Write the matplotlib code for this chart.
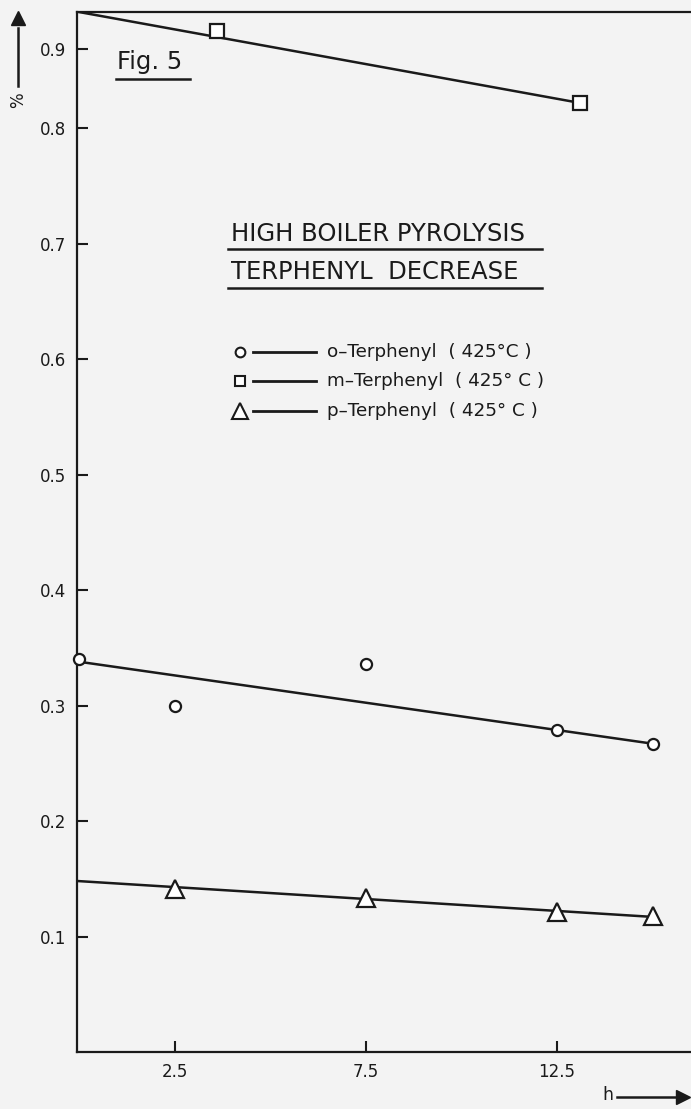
import numpy as np
import matplotlib
matplotlib.use("Agg")
import matplotlib.pyplot as plt
from matplotlib.lines import Line2D

# ---- data ----
o_x = [0, 2.5, 7.5, 12.5, 15]
o_y = [0.340, 0.300, 0.336, 0.279, 0.267]
o_fit_x = [0, 15]
o_fit_y = [0.338, 0.267]

m_x = [3.6, 13.1]
m_y = [0.923, 0.832]
m_fit_x = [0, 13.1]
m_fit_y = [0.947, 0.832]

p_x = [2.5, 7.5, 12.5, 15]
p_y = [0.141, 0.133, 0.121, 0.118]
p_fit_x = [0, 15]
p_fit_y = [0.148, 0.117]

x_ticks = [2.5, 7.5, 12.5]
x_ticklabels = ["2.5", "7.5", "12.5"]
y_ticks = [0.1, 0.2, 0.3, 0.4, 0.5, 0.6, 0.7, 0.8, 0.9]
y_ticklabels = ["0.1", "0.2", "0.3", "0.4", "0.5", "0.6", "0.7", "0.8", "0.9"]
legend_labels = ["o\u2013Terphenyl  ( 425\u00b0C )",
                 "m\u2013Terphenyl  ( 425\u00b0 C )",
                 "p\u2013Terphenyl  ( 425\u00b0 C )"]

# compressed scale above 0.8 (as in the original drawing)
K = 0.685
def fwd(y):
    y = np.asarray(y, dtype=float)
    return np.where(y <= 0.8, y, 0.8 + (y - 0.8) * K)
def inv(v):
    v = np.asarray(v, dtype=float)
    return np.where(v <= 0.8, v, 0.8 + (v - 0.8) / K)

W, H = 691, 1109
fig = plt.figure(figsize=(W / 100, H / 100), dpi=100)
bg = "#f3f3f3"
fig.patch.set_facecolor(bg)

def fx(px):
    return px / W
def fy(py):
    return 1 - py / H

ax = fig.add_axes([fx(77), fy(1052), fx(691) - fx(77), fy(12) - fy(1052)])
ax.set_facecolor(bg)
ax.set_yscale("function", functions=(fwd, inv))
ax.set_xlim(-0.05, 16.0)
ax.set_ylim(0.0, 0.947)

lw = 1.8
ax.plot(o_fit_x, o_fit_y, color="#1a1a1a", lw=lw, zorder=2)
ax.plot(m_fit_x, m_fit_y, color="#1a1a1a", lw=lw, zorder=2)
ax.plot(p_fit_x, p_fit_y, color="#1a1a1a", lw=lw, zorder=2)

ax.plot(o_x, o_y, ls="none", marker="o", ms=8, mfc="white", mec="#1a1a1a", mew=1.6, zorder=3, clip_on=False)
ax.plot(m_x, m_y, ls="none", marker="s", ms=10, mfc="white", mec="#1a1a1a", mew=1.6, zorder=3, clip_on=False)
ax.plot(p_x, p_y, ls="none", marker="^", ms=13, mfc="white", mec="#1a1a1a", mew=1.6, zorder=3, clip_on=False)

ax.set_xticks(x_ticks)
ax.set_xticklabels(x_ticklabels)
ax.set_yticks(y_ticks)
ax.set_yticklabels(y_ticklabels)
ax.minorticks_off()
ax.tick_params(direction="in", length=8, width=1.5, labelsize=12, colors="#1a1a1a", pad=8)
for s in ["left", "bottom", "top"]:
    ax.spines[s].set_linewidth(1.6)
    ax.spines[s].set_color("#1a1a1a")
ax.spines["right"].set_visible(False)

# Fig. label
fig.text(fx(117), fy(62), "Fig. 5", fontsize=17.5, ha="left", va="center", color="#1a1a1a")
fig.add_artist(Line2D([fx(116), fx(190)], [fy(79), fy(79)], color="#1a1a1a", lw=1.8))

# Title block
fig.text(fx(231), fy(234), "HIGH BOILER PYROLYSIS", fontsize=17.5, ha="left", va="center", color="#1a1a1a")
fig.add_artist(Line2D([fx(228), fx(542)], [fy(249), fy(249)], color="#1a1a1a", lw=1.8))
fig.text(fx(231), fy(272), "TERPHENYL  DECREASE", fontsize=17.5, ha="left", va="center", color="#1a1a1a")
fig.add_artist(Line2D([fx(228), fx(542)], [fy(288), fy(288)], color="#1a1a1a", lw=1.8))

# Legend (drawn by hand: marker, then line, then text)
markers = ["o", "s", "^"]
msizes = [7, 7, 11]
rows = [352, 381, 411]
for mk, ms, r, lab in zip(markers, msizes, rows, legend_labels):
    fig.add_artist(Line2D([fx(240)], [fy(r)], marker=mk, ms=ms, mfc="white",
                          mec="#1a1a1a", mew=1.5, ls="none"))
    fig.add_artist(Line2D([fx(253), fx(316)], [fy(r), fy(r)], color="#1a1a1a", lw=2))
    fig.text(fx(327), fy(r), lab, fontsize=13.2, ha="left", va="center", color="#1a1a1a")

# Axis arrows and units
fig.add_artist(Line2D([fx(18), fx(18)], [fy(86), fy(28)], color="#1a1a1a", lw=1.8))
fig.add_artist(Line2D([fx(18)], [fy(18)], marker="^", ms=10, color="#1a1a1a", ls="none"))
fig.text(fx(18), fy(100), "%", fontsize=12, rotation=90, ha="center", va="center", color="#1a1a1a")

fig.text(fx(608), fy(1095), "h", fontsize=12.5, ha="center", va="center", color="#1a1a1a")
fig.add_artist(Line2D([fx(617), fx(676)], [fy(1097), fy(1097)], color="#1a1a1a", lw=1.8))
fig.add_artist(Line2D([fx(683)], [fy(1097)], marker=">", ms=10, color="#1a1a1a", ls="none"))

fig.savefig("out.png", dpi=100, facecolor=bg)
